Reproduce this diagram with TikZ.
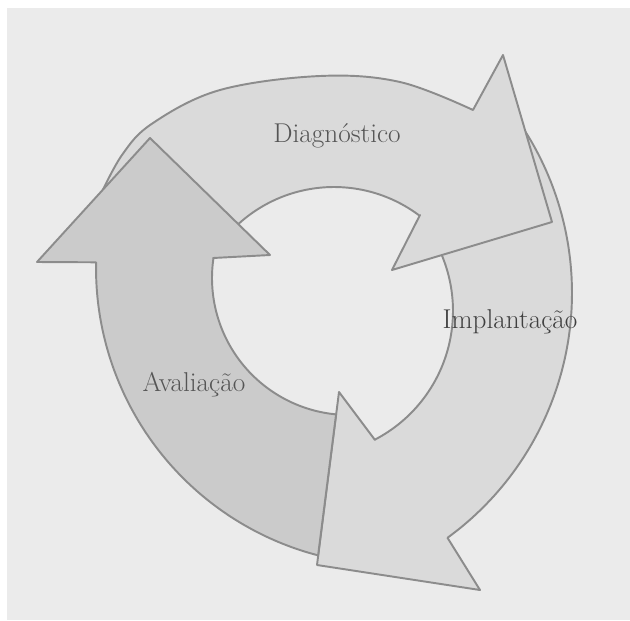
\documentclass[tikz,border=0pt]{standalone}
\usepackage{fontspec}
\definecolor{paper}{HTML}{EBEBEB}
\definecolor{lightarr}{HTML}{DADADA}
\definecolor{darkarr}{HTML}{CBCBCB}
\definecolor{rim}{HTML}{8C8C8C}
\definecolor{ink}{HTML}{555555}

\begin{document}
\begin{tikzpicture}[x=0.02cm,y=-0.02cm,
  cyc/.style={draw=rim,line width=1.1pt,line join=round},
  lbl/.style={font=\fontsize{15.5}{18}\selectfont,text=ink}]
\useasboundingbox (0,0) rectangle (630,620);
\fill[white] (0,0) rectangle (630,620);
\fill[paper] (7,8) rectangle (630,620);

% Implantacao (right), tail under the Diagnostico head
\draw[cyc,fill=lightarr] (440,250) -- (522,128)
  -- plot[domain=-33.1:53.9,samples=30,smooth] ({269+303*cos(\x)},{293+303*sin(\x)})
  -- (480,590) -- (317,565) -- (339,392) -- (375,440)
  -- plot[domain=62.6:-24.8,samples=30,smooth] ({308+145*cos(\x)},{311+145*sin(\x)}) -- cycle;

% Diagnostico (top), tail under the Avaliacao head
\draw[cyc,fill=lightarr] (230,228) -- (98,200)
  -- plot[smooth,tension=0.6] coordinates {(98,200) (122,155) (153,123) (220,90) (320,76) (400,82) (473,110)}
  -- (503,55) -- (552,222) -- (392,270) -- (420,215)
  -- plot[domain=-53:-136,samples=30,smooth] ({334+142*cos(\x)},{329+142*sin(\x)}) -- cycle;

% Avaliacao (left), tail ends on the Implantacao head
\draw[cyc,fill=darkarr] (336,415) -- (318,556)
  -- plot[domain=104.6:181.1,samples=30,smooth] ({393+297*cos(\x)},{268+297*sin(\x)})
  -- (37,262) -- (150,138) -- (270,255) -- (213,258)
  -- plot[domain=188.4:95.4,samples=30,smooth] ({349+137*cos(\x)},{278+137*sin(\x)}) -- cycle;

\node[lbl] (diag) at (337,136) {Diagnóstico};
\node[lbl,text=ink!75!black] (impl) at (510,322) {Implantação};
\node[lbl] (aval) at (194,385) {Avaliação};

\end{tikzpicture}
\end{document}
